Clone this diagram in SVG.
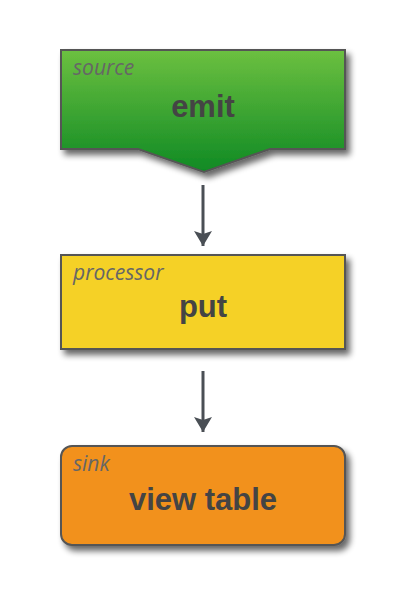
<svg xmlns="http://www.w3.org/2000/svg" width="412" height="604" viewBox="0 0 412 604">
<defs>
<linearGradient id="g" x1="0" y1="0" x2="0" y2="1">
<stop offset="0" stop-color="#6cc040"/>
<stop offset="1" stop-color="#0f8a24"/>
</linearGradient>
<filter id="sh" x="-10%" y="-10%" width="125%" height="135%">
<feGaussianBlur in="SourceAlpha" stdDeviation="3"/>
<feOffset dx="4" dy="5" result="b"/>
<feComponentTransfer><feFuncA type="linear" slope="0.6"/></feComponentTransfer>
<feMerge><feMergeNode/><feMergeNode in="SourceGraphic"/></feMerge>
</filter>
<marker id="ah" viewBox="0 0 10 10" refX="10" refY="5" markerWidth="5" markerHeight="6" markerUnits="strokeWidth" orient="auto" preserveAspectRatio="none">
<path d="M0,0 L10,5 L0,10 L2,5 Z" fill="#4a4f55"/>
</marker>
</defs>
<style>
.box{stroke:#555;stroke-width:2}
.kind{font-family:"Open Sans","Liberation Sans",sans-serif;font-style:italic;font-size:21px;fill:#666}
.name{font-family:"Liberation Sans",Arial,sans-serif;font-weight:bold;font-size:31px;fill:#444;text-anchor:middle}
.conn{stroke:#4a4f55;stroke-width:3;fill:none}
</style>
<g id="connectors">
<line class="conn" x1="203" y1="185" x2="203" y2="246" marker-end="url(#ah)"/>
<line class="conn" x1="203" y1="371" x2="203" y2="432" marker-end="url(#ah)"/>
</g>
<g id="source">
<path class="box" filter="url(#sh)" fill="url(#g)" d="M61,50 H345 V149 H270 L204,172 L138,149 H61 Z"/>
<text class="kind" x="73" y="75">source</text>
<text class="name" x="203" y="117">emit</text>
</g>
<g id="processor">
<rect class="box" filter="url(#sh)" fill="#f5d128" x="61" y="255" width="284" height="94"/>
<text class="kind" x="73" y="280">processor</text>
<text class="name" x="203" y="317">put</text>
</g>
<g id="sink">
<rect class="box" filter="url(#sh)" fill="#f2911b" x="61" y="446" width="284" height="99" rx="11"/>
<text class="kind" x="73" y="471">sink</text>
<text class="name" x="203" y="510">view table</text>
</g>
</svg>
